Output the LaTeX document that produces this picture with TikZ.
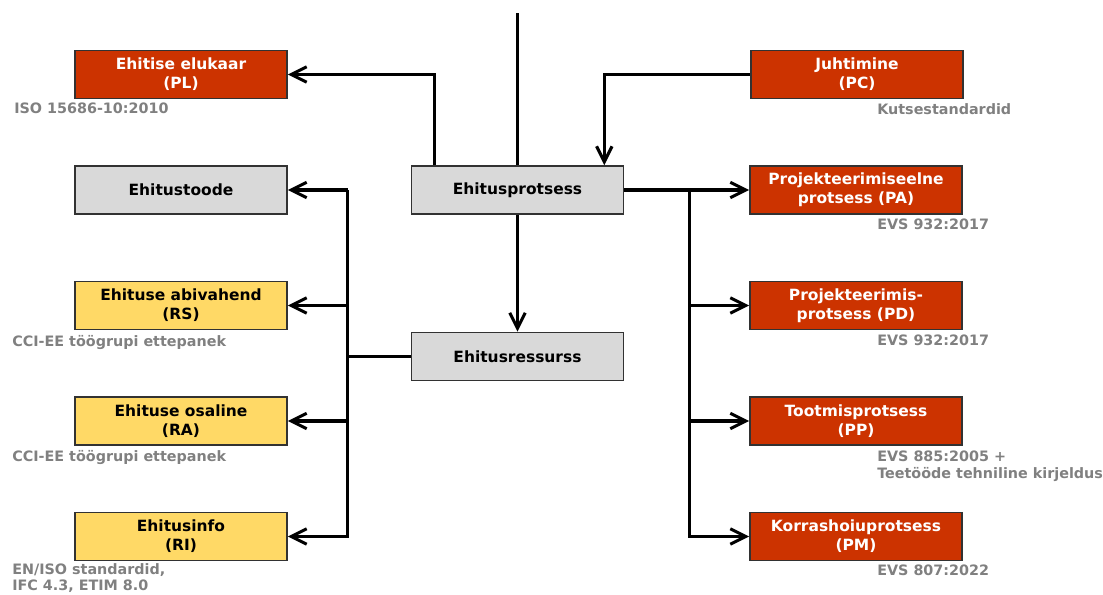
\documentclass[tikz,border=0pt]{standalone}
\usepackage{fontspec}
\setmainfont{DejaVu Sans}
\usepackage{tikz}
\usetikzlibrary{arrows.meta, positioning, calc}
\usepackage{xcolor}
\definecolor{cRed}{RGB}{204,51,0}
\definecolor{cYellow}{RGB}{255,217,102}
\definecolor{cGray}{RGB}{217,217,217}
\definecolor{cText}{RGB}{128,128,128}
\definecolor{cEdge}{RGB}{50,50,50}
\tikzset{
  basebox/.style={rectangle, draw=cEdge, line width=1.1pt, align=center,
                  minimum width=5.3cm, minimum height=1.2cm, inner sep=0pt,
                  font=\fontsize{11}{13.5}\selectfont\bfseries},
  procnode/.style={basebox, fill=cRed, text=white},
  resnode/.style={basebox, fill=cYellow, text=black},
  corenode/.style={basebox, fill=cGray, text=black},
  stdnote/.style={inner sep=0pt, align=left, text=cText,
                  font=\fontsize{10.2}{11.8}\selectfont\bfseries},
  arrow/.style={-{Straight Barb[length=11pt, width=11pt, line width=2.2pt]},
                line width=2.2pt, black},
  plainline/.style={line width=2.2pt, black}
}

\begin{document}
\begin{tikzpicture}[x=0.025cm, y=-0.025cm]
  \useasboundingbox (0,0) rectangle (1103,594);

  % ── Centre column ──
  \node[corenode] (protsess) at (517.5,190) {Ehitusprotsess};
  \node[corenode] (ressurss) at (517.5,356.5) {Ehitusressurss};
  \coordinate (top) at (517.5,13);

  % ── Left column ──
  \node[procnode] (pl) at (181,74.5) {Ehitise elukaar\\(PL)};
  \node[corenode] (toode) at (181,190) {Ehitustoode};
  \node[resnode] (rs) at (181,305.5) {Ehituse abivahend\\(RS)};
  \node[resnode] (ra) at (181,421) {Ehituse osaline\\(RA)};
  \node[resnode] (ri) at (181,536.5) {Ehitusinfo\\(RI)};

  % ── Right column ──
  \node[procnode] (pc) at (857,74.5) {Juhtimine\\(PC)};
  \node[procnode] (pa) at (856,190) {Projekteerimiseelne\\protsess (PA)};
  \node[procnode] (pd) at (856,305.5) {Projekteerimis-\\protsess (PD)};
  \node[procnode] (pp) at (856,421) {Tootmisprotsess\\(PP)};
  \node[procnode] (pm) at (856,536.5) {Korrashoiuprotsess\\(PM)};

  % ── Standards ──
  \node[stdnote, anchor=north west] (npl) at (14,103) {ISO 15686-10:2010};
  \node[stdnote, anchor=north west] (nrs) at (12,335) {CCI-EE töögrupi ettepanek};
  \node[stdnote, anchor=north west] (nra) at (12,450) {CCI-EE töögrupi ettepanek};
  \node[stdnote, anchor=north west] (nri) at (12,563) {EN/ISO standardid,\\IFC 4.3, ETIM 8.0};
  \node[stdnote, anchor=north west] (npc) at (877,103) {Kutsestandardid};
  \node[stdnote, anchor=north west] (npa) at (877,219) {EVS 932:2017};
  \node[stdnote, anchor=north west] (npd) at (877,335) {EVS 932:2017};
  \node[stdnote, anchor=north west] (npp) at (877,451) {EVS 885:2005 +\\Teetööde tehniline kirjeldus};
  \node[stdnote, anchor=north west] (npm) at (877,565) {EVS 807:2022};

  % ── ARROWS ──
  \draw[plainline] (top) -- (protsess.north);
  \draw[arrow] ($(protsess.north west)+(24,0)$) |- (pl.east);
  \draw[arrow] (pc.west) -| ($(protsess.north east)+(-20,0)$);
  \draw[arrow] (protsess.south) -- (ressurss.north);

  \coordinate (rbus) at ($(protsess.east)+(65,0)$);
  \draw[arrow] (protsess.east) -- (pa.west);
  \draw[arrow] (rbus) |- (pd.west);
  \draw[arrow] (rbus) |- (pp.west);
  \draw[arrow] (rbus) |- (pm.west);

  \coordinate (lbus) at ($(toode.east)+(60,0)$);
  \draw[plainline] (ressurss.west) -- (ressurss.west -| lbus);
  \draw[arrow] (lbus) -- (toode.east);
  \draw[arrow] (lbus) |- (rs.east);
  \draw[arrow] (lbus) |- (ra.east);
  \draw[arrow] (lbus) |- (ri.east);

\end{tikzpicture}
\end{document}
